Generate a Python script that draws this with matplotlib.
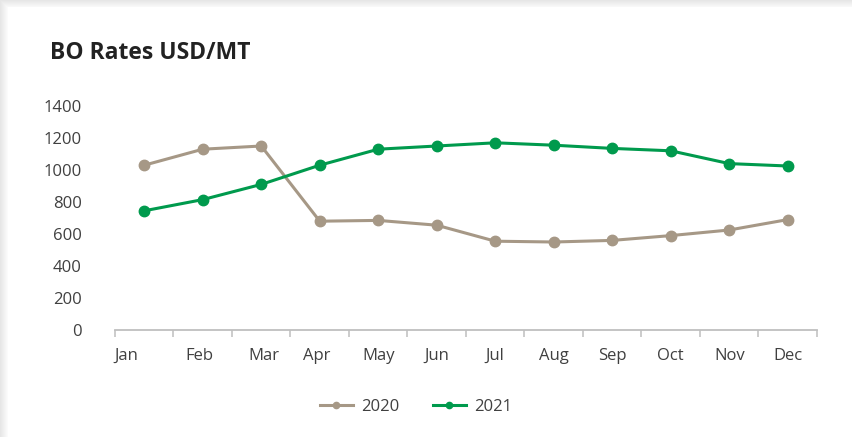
import matplotlib
matplotlib.use("Agg")
import matplotlib.pyplot as plt
from matplotlib.patches import Rectangle
import numpy as np

months = ["Jan", "Feb", "Mar", "Apr", "May", "Jun", "Jul", "Aug", "Sep", "Oct", "Nov", "Dec"]
rates_2020 = [1030, 1130, 1150, 680, 685, 655, 555, 550, 560, 590, 625, 690]
rates_2021 = [745, 815, 910, 1030, 1130, 1150, 1170, 1155, 1135, 1120, 1040, 1025]
yticks = [0, 200, 400, 600, 800, 1000, 1200, 1400]

C2020 = "#A69886"
C2021 = "#009A4D"
TXT = "#404040"

plt.rcParams['font.family'] = ['Open Sans', 'DejaVu Sans']

W, H = 853, 437
fig = plt.figure(figsize=(W / 100, H / 100), dpi=100)
fig.patch.set_facecolor("white")

# card shadow on left and top
bg = fig.add_axes([0, 0, 1, 1])
bg.set_xlim(0, W)
bg.set_ylim(H, 0)
bg.axis("off")
for i in range(8):
    shade = 0.90 + 0.012 * i
    bg.add_patch(Rectangle((i, i), W, H, facecolor=(shade, shade, shade), edgecolor="none"))
bg.add_patch(Rectangle((8, 7), W, H, facecolor="white", edgecolor="none"))

# plot area: x 115..817, y 106..330 (pixels from top)
left, right, top, bottom = 115, 817, 106, 330
ax = fig.add_axes([left / W, 1 - bottom / H, (right - left) / W, (bottom - top) / H])
ax.set_facecolor("none")

x = np.arange(len(months))
ax.plot(x, rates_2020, color=C2020, lw=2.2, marker="o", ms=7.5, label="2020")
ax.plot(x, rates_2021, color=C2021, lw=2.2, marker="o", ms=7.5, label="2021")

ax.set_xlim(-0.5, len(months) - 0.5)
ax.set_ylim(0, 1400)
ax.set_yticks(yticks)
ax.set_yticklabels([str(v) for v in yticks], fontsize=12, color=TXT)
ax.tick_params(axis="y", length=0, pad=24)

for s in ["top", "right", "left"]:
    ax.spines[s].set_visible(False)
ax.spines["bottom"].set_color("#BFBFBF")
ax.spines["bottom"].set_linewidth(1.3)

# tick marks at category boundaries, labels at centers
ax.set_xticks(np.arange(-0.5, len(months), 1.0))
ax.set_xticklabels([])
ax.tick_params(axis="x", which="major", length=5, width=1.1, color="#BFBFBF", direction="out")
label_pos = [-0.31, 0.95, 2.05, 2.95] + list(x[4:])
ax.set_xticks(label_pos, minor=True)
ax.set_xticklabels(months, minor=True, fontsize=12, color=TXT)
ax.tick_params(axis="x", which="minor", length=0, pad=13)

fig.text(50 / W, 1 - 53 / H, "BO Rates USD/MT", fontsize=16.5, fontweight="bold",
         color="#222222", va="center", ha="left")

leg = fig.legend(loc="center", bbox_to_anchor=(416 / W, 1 - 407 / H), ncol=2, frameon=False,
                 fontsize=12, handlelength=2.0, columnspacing=2.0, handletextpad=0.5, markerscale=0.6)
for t in leg.get_texts():
    t.set_color(TXT)

fig.savefig("out.png", dpi=100)
